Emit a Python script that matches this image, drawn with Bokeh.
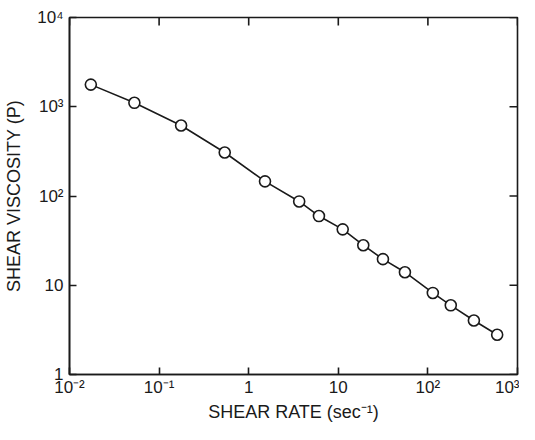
import math
from bokeh.plotting import figure
from bokeh.models import FixedTicker
from bokeh.embed import file_html
from bokeh.resources import INLINE

# data
shear_rate = [0.0173, 0.053, 0.176, 0.54, 1.52, 3.66, 6.08, 11.2, 19.0, 31.5, 55.4, 113.5, 180, 326, 593]
viscosity = [1770, 1107, 617, 307, 146, 86.9, 59.6, 42.3, 28.1, 19.6, 14.0, 8.2, 5.96, 4.03, 2.79]

x_ticks = [0.01, 0.1, 1, 10, 100, 1000]
x_tick_labels = ["10\u207b\u00b2", "10\u207b\u00b9", "1", "10", "10\u00b2", "10\u00b3"]
y_ticks = [1, 10, 100, 1000, 10000]
y_tick_labels = ["1", "10", "10\u00b2", "10\u00b3", "10\u2074"]

FONT = "Liberation Sans"
INK = "#1a1a1a"

p = figure(width=519, height=424, x_axis_type="log", y_axis_type="log",
           x_range=(x_ticks[0], x_ticks[-1]), y_range=(y_ticks[0], y_ticks[-1]),
           output_backend="svg", toolbar_location=None,
           min_border_left=69, min_border_top=17, min_border_right=2, min_border_bottom=0)
p.grid.visible = False
p.outline_line_color = INK
p.outline_line_width = 1.6
p.background_fill_color = "white"
p.border_fill_color = "white"

p.line(shear_rate, viscosity, line_color=INK, line_width=1.6)
p.scatter(shear_rate, viscosity, size=11, fill_color="white", line_color=INK, line_width=1.6)

# inward tick marks on the top and right frame edges (half of each mark is clipped by the frame)
p.scatter(x=x_ticks, y=[y_ticks[-1]] * len(x_ticks), marker="dash", size=16,
          angle=math.pi / 2, line_color=INK, line_width=1.6)
p.scatter(x=[x_ticks[-1]] * len(y_ticks), y=y_ticks, marker="dash", size=16,
          line_color=INK, line_width=1.6)


def style(ax, ticks, labels):
    ax.ticker = FixedTicker(ticks=ticks)
    ax.major_label_overrides = {t: l for t, l in zip(ticks, labels)}
    ax.major_tick_in = 7
    ax.major_tick_out = 0
    ax.minor_tick_line_color = None
    ax.major_tick_line_color = INK
    ax.major_tick_line_width = 1.6
    ax.axis_line_color = INK
    ax.axis_line_width = 1.6
    ax.major_label_text_font = FONT
    ax.major_label_text_font_size = "17px"
    ax.major_label_text_color = INK
    ax.axis_label_text_font = FONT
    ax.axis_label_text_font_size = "18px"
    ax.axis_label_text_font_style = "normal"
    ax.axis_label_text_color = INK


style(p.xaxis[0], x_ticks, x_tick_labels)
style(p.yaxis[0], y_ticks, y_tick_labels)
p.xaxis[0].major_label_standoff = 3
p.xaxis[0].axis_label_standoff = 2
p.yaxis[0].major_label_standoff = 6
p.yaxis[0].axis_label_standoff = 10
p.xaxis[0].axis_label = "SHEAR RATE (sec\u207b\u00b9)"
p.yaxis[0].axis_label = "SHEAR VISCOSITY (P)"

open("out.html", "w").write(file_html(p, INLINE))
